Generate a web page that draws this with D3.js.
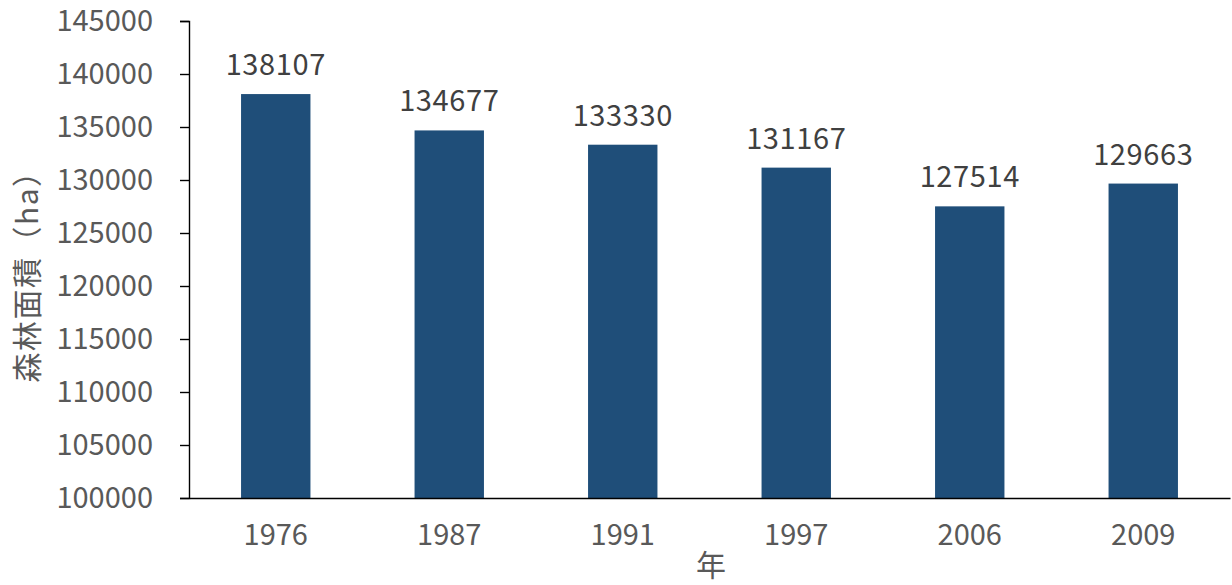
<!DOCTYPE html>
<html>
<head>
<meta charset="utf-8">
<script src="https://cdn.jsdelivr.net/npm/d3@7"></script>
<style>
  html, body { margin: 0; padding: 0; background: #fff; }
  svg { display: block; }
  text { font-family: "Noto Sans CJK JP", "Noto Sans", sans-serif; }
</style>
</head>
<body>
<svg id="chart" width="1232" height="585"></svg>
<script>
// Forest area by survey year
const years = ["1976", "1987", "1991", "1997", "2006", "2009"];
const forestArea = [138107, 134677, 133330, 131167, 127514, 129663];
const yTicks = [100000, 105000, 110000, 115000, 120000, 125000, 130000, 135000, 140000, 145000];
const yTitle = "森林面積（ha）";
const xTitle = "年";

const data = years.map((y, i) => ({ year: y, value: forestArea[i] }));

const svg = d3.select("#chart");
const plotLeft = 189, plotRight = 1230, plotTop = 21, plotBottom = 498;

const x = d3.scaleBand().domain(years).range([plotLeft, plotRight]).paddingInner(0.6).paddingOuter(0.3);
const y = d3.scaleLinear().domain([100000, 145000]).range([plotBottom, plotTop]);

// bars
svg.append("g").selectAll("rect").data(data).join("rect")
  .attr("x", d => x(d.year))
  .attr("y", d => y(d.value))
  .attr("width", x.bandwidth())
  .attr("height", d => y(100000) - y(d.value))
  .attr("fill", "#1F4E79");

// value labels
svg.append("g").selectAll("text").data(data).join("text")
  .attr("x", d => x(d.year) + x.bandwidth() / 2)
  .attr("y", d => y(d.value) - 19)
  .attr("text-anchor", "middle")
  .attr("font-size", 29)
  .attr("letter-spacing", 0.6)
  .attr("fill", "#404040")
  .text(d => d.value);

// y axis
const yAxis = svg.append("g")
  .attr("transform", `translate(${plotLeft},0)`)
  .call(d3.axisLeft(y).tickValues(yTicks).tickFormat(d3.format("d")).tickSize(9).tickPadding(27));
yAxis.select(".domain").attr("stroke", "#000").attr("stroke-width", 1.4);
yAxis.selectAll(".tick line").attr("stroke", "#000").attr("stroke-width", 1.4);
yAxis.selectAll(".tick text")
  .attr("font-size", 29)
  .attr("fill", "#595959")
  .attr("font-family", "'Noto Sans CJK JP', 'Noto Sans', sans-serif");

// x axis
const xAxis = svg.append("g")
  .attr("transform", `translate(0,${plotBottom})`)
  .call(d3.axisBottom(x).tickSize(0).tickPadding(26));
xAxis.select(".domain").attr("stroke", "#000").attr("stroke-width", 1.4);
xAxis.selectAll(".tick text")
  .attr("font-size", 29)
  .attr("fill", "#595959")
  .attr("font-family", "'Noto Sans CJK JP', 'Noto Sans', sans-serif");

// axis titles
svg.append("text")
  .attr("transform", `translate(25,269) rotate(-90)`)
  .attr("text-anchor", "middle")
  .attr("dominant-baseline", "central")
  .attr("font-size", 30)
  .attr("letter-spacing", 1.5)
  .attr("fill", "#595959")
  .text(yTitle);

svg.append("text")
  .attr("x", 711)
  .attr("y", 563)
  .attr("text-anchor", "middle")
  .attr("dominant-baseline", "central")
  .attr("font-size", 30)
  .attr("fill", "#595959")
  .text(xTitle);
</script>
</body>
</html>
